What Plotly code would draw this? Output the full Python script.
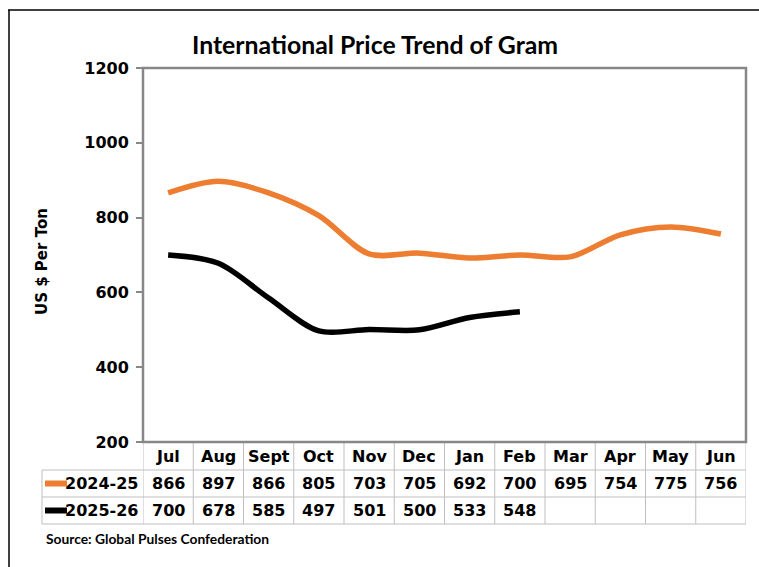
import plotly.graph_objects as go

# Monthly international gram prices (US $ per ton)
months = ["Jul", "Aug", "Sept", "Oct", "Nov", "Dec", "Jan", "Feb", "Mar", "Apr", "May", "Jun"]
series_names = ["2024-25", "2025-26"]
prices_2024_25 = [866, 897, 866, 805, 703, 705, 692, 700, 695, 754, 775, 756]
prices_2025_26 = [700, 678, 585, 497, 501, 500, 533, 548]
series_colors = ["#ED7D31", "#000000"]

W, H = 759, 567
BOLD = "DejaVu Sans"


def py(px):
    """Pixel row -> paper fraction."""
    return 1 - px / H


def px_(x):
    """Pixel column -> paper fraction."""
    return x / W


plot_left, plot_right, plot_top, plot_bottom = 143, 746, 68, 442
row_edges = [442, 470, 497, 524]
cell_font = dict(family=BOLD, size=16, color="#000", weight="bold")

fig = go.Figure()
for name, vals, col in zip(series_names, [prices_2024_25, prices_2025_26], series_colors):
    fig.add_trace(go.Scatter(
        x=list(range(len(vals))), y=vals, mode="lines", name=name,
        line=dict(color=col, width=5.5, shape="spline", smoothing=0.9),
        showlegend=False, hoverinfo="skip",
    ))

shapes = []
grid = dict(color="#BFBFBF", width=1)
# vertical cell separators below the plot
for i in range(len(months) + 1):
    shapes.append(dict(type="line", xref="x", yref="paper", x0=i - 0.5, x1=i - 0.5,
                       y0=py(row_edges[0]), y1=py(row_edges[-1]), line=grid))
# horizontal row separators
for r in row_edges[1:]:
    shapes.append(dict(type="line", xref="paper", yref="paper", x0=px_(42), x1=px_(plot_right),
                       y0=py(r), y1=py(r), line=grid))
shapes.append(dict(type="line", xref="paper", yref="paper", x0=px_(42), x1=px_(42),
                   y0=py(row_edges[1]), y1=py(row_edges[-1]), line=grid))
# plot frame
shapes.append(dict(type="rect", xref="paper", yref="paper", x0=px_(plot_left), x1=px_(plot_right),
                   y0=py(plot_bottom), y1=py(plot_top), line=dict(color="#878787", width=2.5)))
# outer chart border
shapes.append(dict(type="line", xref="paper", yref="paper", x0=px_(8), x1=1.0,
                   y0=py(10), y1=py(10), line=dict(color="#000000", width=1.5)))
shapes.append(dict(type="line", xref="paper", yref="paper", x0=px_(9), x1=px_(9),
                   y0=py(10), y1=0.0, line=dict(color="#000000", width=1.5)))

annotations = []
row_centers = [(row_edges[k] + row_edges[k + 1]) / 2 for k in range(3)]
for i, m in enumerate(months):
    annotations.append(dict(x=i, y=py(row_centers[0]), xref="x", yref="paper", text=m,
                            showarrow=False, font=cell_font,
                            xanchor="center", yanchor="middle"))
for k, (name, vals, col) in enumerate(zip(series_names, [prices_2024_25, prices_2025_26], series_colors)):
    yc = py(row_centers[k + 1])
    for i, v in enumerate(vals):
        annotations.append(dict(x=i, y=yc, xref="x", yref="paper", text=str(v),
                                showarrow=False, font=cell_font,
                                xanchor="center", yanchor="middle"))
    annotations.append(dict(x=px_(140), y=yc, xref="paper", yref="paper", text=name,
                            showarrow=False, font=cell_font,
                            xanchor="right", yanchor="middle"))
    shapes.append(dict(type="line", xref="paper", yref="paper", x0=px_(45), x1=px_(67),
                       y0=yc, y1=yc, line=dict(color=col, width=6)))

annotations.append(dict(x=px_(375), y=py(45), xref="paper", yref="paper",
                        text="International Price Trend of Gram", showarrow=False,
                        font=dict(family="Lato", size=24.8, color="#000", weight="bold"),
                        xanchor="center", yanchor="middle"))
annotations.append(dict(x=px_(44), y=py(538), xref="paper", yref="paper",
                        text="Source: Global Pulses Confederation", showarrow=False,
                        font=dict(family="Lato", size=13.8, color="#000", weight="bold"),
                        xanchor="left", yanchor="middle"))
annotations.append(dict(x=px_(42), y=py(262), xref="paper", yref="paper",
                        text="US $ Per Ton", showarrow=False, textangle=-90,
                        font=dict(family=BOLD, size=15, color="#000", weight="bold"),
                        xanchor="center", yanchor="middle"))

fig.update_layout(
    width=W, height=H, margin=dict(l=0, r=0, t=0, b=0, autoexpand=False),
    paper_bgcolor="white", plot_bgcolor="white",
    xaxis=dict(domain=[px_(plot_left), px_(plot_right)], range=[-0.5, len(months) - 0.5],
               showticklabels=False, showgrid=False, zeroline=False, ticks="",
               fixedrange=True, automargin=False),
    yaxis=dict(domain=[py(plot_bottom), py(plot_top)], range=[200, 1200], dtick=200,
               showgrid=False, zeroline=False, ticks="outside", ticklen=6, tickcolor="#878787",
               tickwidth=1.5, tickfont=dict(family=BOLD, size=16, color="#000", weight="bold"),
               ticklabelstandoff=4, fixedrange=True, automargin=False),
    shapes=shapes, annotations=annotations,
)
fig.write_html("out.html")
